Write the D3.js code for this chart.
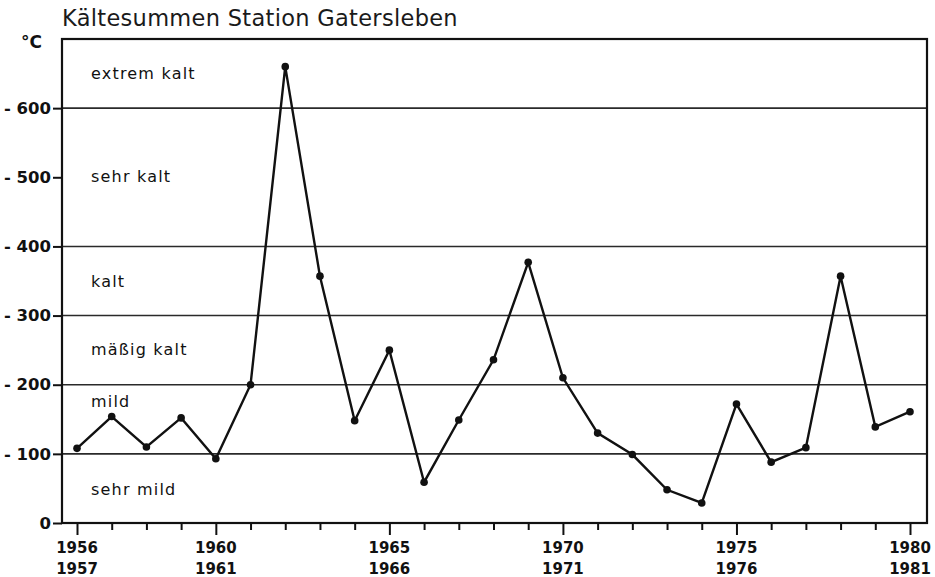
<!DOCTYPE html>
<html><head><meta charset="utf-8">
<script src="https://cdn.jsdelivr.net/npm/d3@7"></script>
<style>
body{margin:0;background:#fff;}
svg{display:block;}
text{fill:#111;}
</style></head>
<body>
<svg id="chart" width="935" height="577"></svg>
<script>
const title = "Kältesummen Station Gatersleben";
const unitLabel = "°C";
const years = [1956,1957,1958,1959,1960,1961,1962,1963,1964,1965,1966,1967,1968,1969,1970,1971,1972,1973,1974,1975,1976,1977,1978,1979,1980];
const coldSums = [108,154,110,152,93,200,660,357,148,250,59,149,236,377,210,130,99,48,29,172,88,109,357,139,161];
const yTicks = [0,100,200,300,400,500,600];
const yTickLabels = ["0","- 100","- 200","- 300","- 400","- 500","- 600"];
const gridValues = [100,200,300,400,600];
const xMajorYears = [1956,1960,1965,1970,1975,1980];
const xLabelsTop = ["1956","1960","1965","1970","1975","1980"];
const xLabelsBottom = ["1957","1961","1966","1971","1976","1981"];
const classNames = ["extrem kalt","sehr kalt","kalt","mäßig kalt","mild","sehr mild"];
const classPositions = [650,500,348,250,175,48];

(function(){
const svg = d3.select("#chart");
const mLeft = 62, mRight = 927, mTop = 39, mBottom = 523;
const x = d3.scaleLinear().domain([1956,1980]).range([77,910]);
const y = d3.scaleLinear().domain([0,700]).range([mBottom, mTop]);
const font = "'DejaVu Sans', sans-serif";

svg.append("text").attr("x",62).attr("y",26).attr("font-family",font)
  .attr("font-size",22.5).attr("letter-spacing",0.3).style("fill","#1a1a1a").text(title);
svg.append("text").attr("x",21).attr("y",48).attr("font-family",font)
  .attr("font-size",17).attr("font-weight","bold").text(unitLabel);

svg.append("g").selectAll("line").data(gridValues).join("line")
  .attr("x1",mLeft).attr("x2",mRight).attr("y1",d=>y(d)).attr("y2",d=>y(d))
  .attr("stroke","#2a2a2a").attr("stroke-width",1.6);

svg.append("rect").attr("x",mLeft).attr("y",mTop).attr("width",mRight-mLeft).attr("height",mBottom-mTop)
  .attr("fill","none").attr("stroke","#111").attr("stroke-width",2.2);

const yAxis = d3.axisLeft(y).tickValues(yTicks).tickSize(9).tickPadding(2)
  .tickFormat((d,i)=>yTickLabels[i]);
const gy = svg.append("g").attr("transform",`translate(${mLeft},0)`).call(yAxis);
gy.select(".domain").remove();
gy.selectAll(".tick line").attr("stroke","#111").attr("stroke-width",2);
gy.selectAll(".tick text").attr("font-family",font).attr("font-size",16.5)
  .attr("font-weight","bold").style("fill","#111");

const gx = svg.append("g").attr("transform",`translate(0,${mBottom})`);
const xAxis = d3.axisBottom(x).tickValues(years).tickFormat("")
  .tickSizeInner(7).tickSizeOuter(0);
gx.call(xAxis);
gx.select(".domain").remove();
gx.selectAll(".tick line").attr("stroke","#111").attr("stroke-width",2)
  .attr("y2",d=>xMajorYears.includes(d)?12:7);
const lab = svg.append("g").attr("font-family",font).attr("font-size",15).attr("font-weight","bold")
  .attr("text-anchor","middle");
lab.selectAll("text.t1").data(xMajorYears).join("text").attr("class","t1")
  .attr("x",d=>x(d)).attr("y",553).style("fill","#111").text((d,i)=>xLabelsTop[i]);
lab.selectAll("text.t2").data(xMajorYears).join("text").attr("class","t2")
  .attr("x",d=>x(d)).attr("y",574).style("fill","#111").text((d,i)=>xLabelsBottom[i]);

svg.append("g").selectAll("text").data(classNames).join("text")
  .attr("x",91).attr("y",(d,i)=>y(classPositions[i])+5)
  .attr("font-family",font).attr("font-size",16).attr("letter-spacing",1.2)
  .style("fill","#111").text(d=>d);

const data = years.map((yr,i)=>({yr, v: coldSums[i]}));
svg.append("path").datum(data)
  .attr("d", d3.line().x(d=>x(d.yr)).y(d=>y(d.v)))
  .attr("fill","none").attr("stroke","#111").attr("stroke-width",2.4).attr("stroke-linejoin","miter");
svg.append("g").selectAll("circle").data(data).join("circle")
  .attr("cx",d=>x(d.yr)).attr("cy",d=>y(d.v)).attr("r",3.8).attr("fill","#111");
})();
</script>
</body></html>
